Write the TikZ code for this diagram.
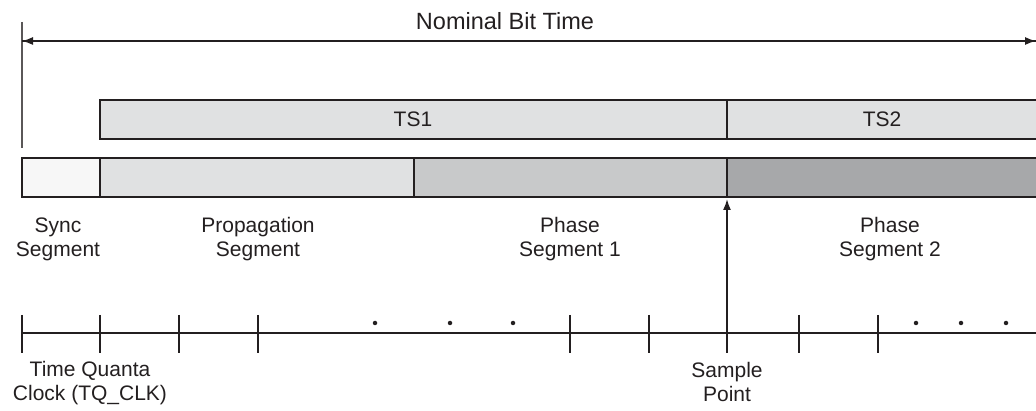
\documentclass[tikz,border=0pt]{standalone}
\usepackage{fontspec}
\setmainfont{Liberation Sans}
\usetikzlibrary{arrows.meta}
\definecolor{ink}{HTML}{231F20}
\definecolor{cSync}{HTML}{F7F7F7}
\definecolor{cProp}{HTML}{E0E1E2}
\definecolor{cPh1}{HTML}{C8C9CA}
\definecolor{cPh2}{HTML}{A7A8AA}
\tikzset{
  seg/.style={draw=ink, line width=2.6pt},
  lbl/.style={text=ink, font=\fontsize{21}{24}\selectfont, align=center, inner sep=0pt},
  thin/.style={draw=ink, line width=1.4pt},
  tick/.style={draw=ink, line width=1.3pt},
  arr/.style={-{Latex[length=11pt,width=8pt]}},
  dot/.style={circle, fill=ink, inner sep=0pt, minimum size=4.5pt}
}
\begin{document}
\begin{tikzpicture}[x=1pt,y=-1pt]
\useasboundingbox (0,0) rectangle (1036,411);
\clip (0,0) rectangle (1036,411);
% title and nominal arrow
\node[lbl, font=\fontsize{23.5}{27}\selectfont] (nominal) at (505,21) {Nominal Bit Time};
\coordinate (vtop) at (22,22);
\coordinate (vbot) at (22,148);
\draw[thin, draw=ink!75] (vtop) -- (vbot);
\coordinate (nl) at (22,41);
\coordinate (nr) at (1036,41);
\draw[thin, arr] (nl) -- (nr);
\draw[thin, arr] (nr) -- (nl);
% TS boxes
\draw[seg, fill=cProp] (100,100) rectangle (727,139);
\draw[seg, fill=cProp] (727,100) rectangle (1050,139);
\node[lbl] (ts1) at (413,119.5) {TS1};
\node[lbl] (ts2) at (882,119.5) {TS2};
% segment bar
\draw[seg, fill=cSync] (22,158) rectangle (100,197);
\draw[seg, fill=cProp] (100,158) rectangle (414,197);
\draw[seg, fill=cPh1] (414,158) rectangle (727,197);
\draw[seg, fill=cPh2] (727,158) rectangle (1050,197);
\node[lbl] (sync) at (58,239) {Sync\\Segment};
\node[lbl] (prop) at (258,239) {Propagation\\Segment};
\node[lbl] (ph1) at (570,239) {Phase\\Segment 1};
\node[lbl] (ph2) at (890,239) {Phase\\Segment 2};
% time quanta clock
\coordinate (cl) at (22,333);
\coordinate (cr) at (1036,333);
\draw[tick] (cl) -- (cr);
\foreach \x in {22,100,179,258,570,649,799,878}
  \draw[tick] (\x,315) -- (\x,353);
\foreach \x/\n in {375/a,450/b,513/c,916/d,961/e,1006/f}
  \node[dot] (d\n) at (\x,323) {};
% sample point
\coordinate (spb) at (727,353);
\coordinate (spt) at (727,199);
\draw[thin, line width=1.6pt, arr] (spb) -- (spt);
\node[lbl] (tq) at (90,383) {Time Quanta\\Clock (TQ\_CLK)};
\node[lbl] (sp) at (727,382) {Sample\\Point};
\end{tikzpicture}
\end{document}
